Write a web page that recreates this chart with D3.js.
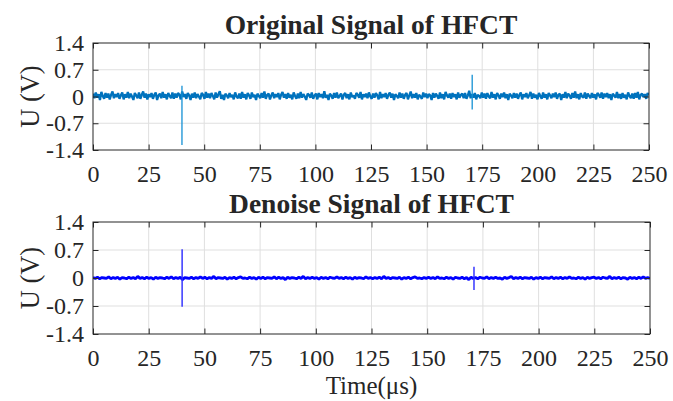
<!DOCTYPE html>
<html>
<head>
<meta charset="utf-8">
<script src="https://cdn.jsdelivr.net/npm/d3@7"></script>
<style>
  body { margin: 0; background: #fff; }
  text { font-family: "Liberation Serif", "DejaVu Serif", serif; fill: #262626; }
</style>
</head>
<body>
<div id="chart"></div>
<script>
// axis ticks
var timeTicks = [0, 25, 50, 75, 100, 125, 150, 175, 200, 225, 250];
var voltTicks = [-1.4, -0.7, 0, 0.7, 1.4];

// original HFCT record: background noise in mV, one sample every origStep µs
var origStep = 250 / 399;
var origNoiseMV = [
  75,-45,105,-30,60,-90,120,15,-60,90,-30,75,-75,45,130,-45,60,-15,90,-60,
  30,105,-75,60,-30,120,-45,75,0,-90,90,30,-45,105,-60,45,130,-30,75,-75,
  60,-15,90,-60,45,105,-90,30,75,-45,120,-30,60,-75,90,15,-45,105,-60,75,
  -30,90,45,-75,130,-15,60,-60,90,30,-90,75,-30,105,-45,60,0,-75,90,45,
  -60,120,-30,75,-45,90,15,-75,105,-30,60,140,-60,45,-90,75,30,-45,90,-15,
  45,-75,105,0,-45,75,-60,120,-30,60,-75,90,30,-60,105,-15,45,-90,75,15,
  -45,90,-30,130,-60,45,75,-75,30,105,-45,60,-15,90,-75,45,120,-30,60,-60,
  90,-30,45,-75,105,15,-60,75,-45,120,-30,60,0,-90,75,45,-30,105,-60,30,
  75,-75,90,-15,60,-45,140,-30,45,-90,75,30,-60,90,-30,105,-45,15,75,-75,
  45,90,-45,60,-75,105,-15,30,-60,90,45,-30,120,-75,60,-15,75,-45,105,0,
  -60,75,-30,90,30,-75,120,-45,60,-15,90,-60,45,105,-30,75,-90,60,15,-45,
  105,-30,75,-60,45,90,-75,30,130,-45,60,-30,90,-75,45,0,-60,105,-15,75,
  -45,60,30,-90,90,-30,75,15,-60,105,-45,60,-75,120,30,-30,75,-60,90,-15,
  60,-75,105,-30,45,75,-45,90,-60,30,150,-45,60,-30,90,-75,45,15,-45,105,
  -30,75,-60,90,0,-45,120,-30,60,-75,90,30,-60,75,-15,105,-45,60,-90,75,
  30,-45,90,-30,75,-60,45,105,-75,60,-15,90,-45,30,120,-60,75,-30,45,-75,
  90,15,-60,105,-30,60,-75,90,30,-45,75,-15,105,-60,45,75,-90,60,-30,120,
  -45,75,30,-60,90,-30,130,-45,60,-75,90,0,-30,105,-60,75,15,-45,90,-30,
  60,-75,90,45,-30,105,-60,75,-15,90,-45,60,-90,75,30,-30,120,-45,60,-60,
  90,-30,45,-75,105,15,-45,75,-60,90,-30,120,-75,45,75,-15,60,-60,90,30
];
// partial discharge pulses in the original record (time µs, peak V, trough V)
var origSpikes = [
  { t: 40, hi: 0.28, lo: -1.27 },
  { t: 170.5, hi: 0.57, lo: -0.34 }
];

// denoised record: residual in mV, one sample every denStep µs
var denStep = 250 / 249;
var denNoiseMV = [
  10,-10,20,-20,10,0,-10,30,-20,10,-10,20,-30,10,0,-20,20,-10,10,-20,40,-10,10,-20,20,
  -10,10,-30,20,-10,10,0,-20,20,-10,30,-20,10,-10,20,-40,10,0,-10,20,-20,10,-10,30,-10,
  20,-20,10,-10,40,-20,10,0,-10,20,-30,10,-10,20,-20,10,30,-10,0,-20,20,-10,10,-30,20,
  -10,20,-20,10,0,-10,30,-20,20,-10,10,-40,20,-10,10,0,-20,20,-10,40,-20,10,-10,20,-10,
  10,-30,20,-10,10,-20,20,0,-10,30,-10,10,-20,20,-10,10,-30,20,-10,10,0,-20,30,-10,10,
  -20,10,-10,20,-20,40,-10,10,-20,10,0,-10,20,-30,10,-10,20,-20,10,30,-10,0,-20,10,-10,
  20,-10,10,-20,30,-10,0,-20,20,-10,10,-30,20,0,-10,20,-20,10,-40,20,-10,10,-20,20,0,
  -10,30,-20,10,-10,20,-10,0,-30,20,-10,10,40,-20,10,-10,20,-20,10,0,-10,20,-30,10,-10,
  20,-20,10,0,-10,30,-20,10,-10,20,-20,10,-10,30,-10,0,-20,20,-10,10,-30,20,-10,10,20,
  -10,10,-20,20,0,-10,40,-20,10,-10,20,-20,10,0,-30,20,-10,10,-20,20,-10,30,-10,10,-10
];
var denSpikes = [
  { t: 40, hi: 0.72, lo: -0.72 },
  { t: 171, hi: 0.28, lo: -0.30 }
];

var W = 673, H = 401;
var svg = d3.select("#chart").append("svg")
  .attr("width", W).attr("height", H);

function noiseTrace(noiseMV, step) {
  return noiseMV.map(function (mv, i) { return { t: i * step, v: mv / 1000 }; });
}
function spikeTrace(s) {
  return [{ t: s.t, v: 0 }, { t: s.t, v: s.hi }, { t: s.t, v: s.lo }, { t: s.t, v: 0 }];
}

function drawPanel(p) {
  var g = svg.append("g").attr("transform", "translate(" + p.left + "," + p.top + ")");
  var x = d3.scaleLinear().domain([0, 250]).range([0, p.width]);
  var y = d3.scaleLinear().domain([-1.4, 1.4]).range([p.height, 0]);

  // grid
  g.append("g").selectAll("line").data(timeTicks.slice(1, -1)).enter().append("line")
    .attr("x1", function (d) { return x(d); }).attr("x2", function (d) { return x(d); })
    .attr("y1", 0).attr("y2", p.height)
    .attr("stroke", "#dfdfdf").attr("stroke-width", 1);
  g.append("g").selectAll("line").data(voltTicks.slice(1, -1)).enter().append("line")
    .attr("y1", function (d) { return y(d); }).attr("y2", function (d) { return y(d); })
    .attr("x1", 0).attr("x2", p.width)
    .attr("stroke", "#dfdfdf").attr("stroke-width", 1);

  // trace: dense noise floor plus the discharge pulses
  g.append("clipPath").attr("id", "clip" + p.id)
    .append("rect").attr("width", p.width).attr("height", p.height);
  var line = d3.line().x(function (d) { return x(d.t); }).y(function (d) { return y(d.v); });
  var plot = g.append("g").attr("clip-path", "url(#clip" + p.id + ")");
  plot.append("path")
    .datum(noiseTrace(p.noise, p.step))
    .attr("d", line)
    .attr("fill", "none")
    .attr("stroke", p.color)
    .attr("stroke-width", p.lineWidth)
    .attr("stroke-linejoin", "bevel");
  plot.selectAll(".spike").data(p.spikes).enter().append("path")
    .attr("class", "spike")
    .attr("d", function (s) { return line(spikeTrace(s)); })
    .attr("fill", "none")
    .attr("stroke", p.spikeColor)
    .attr("stroke-width", p.spikeWidth);

  // axes with inward ticks on all sides
  var tl = 5.5;
  var xb = d3.axisBottom(x).tickValues(timeTicks).tickSizeInner(-tl).tickSizeOuter(0).tickPadding(15);
  var xt = d3.axisTop(x).tickValues(timeTicks).tickSizeInner(-tl).tickSizeOuter(0).tickFormat("");
  var yl = d3.axisLeft(y).tickValues(voltTicks).tickSizeInner(-tl).tickSizeOuter(0).tickPadding(9)
    .tickFormat(function (d) { return d === 0 ? "0" : d; });
  var yr = d3.axisRight(y).tickValues(voltTicks).tickSizeInner(-tl).tickSizeOuter(0).tickFormat("");

  [[xb, "translate(0," + p.height + ")"], [xt, null], [yl, null], [yr, "translate(" + p.width + ",0)"]]
    .forEach(function (a) {
      var ax = g.append("g").call(a[0]);
      if (a[1]) ax.attr("transform", a[1]);
      ax.select(".domain").remove();
      ax.selectAll("line").attr("stroke", "#262626");
      ax.selectAll("text").style("font-size", "24px")
        .attr("fill", "#262626").style("font-family", "'Liberation Serif', serif");
    });

  g.append("rect").attr("width", p.width).attr("height", p.height)
    .attr("fill", "none").attr("stroke", "#262626").attr("stroke-width", 1);

  // title
  g.append("text")
    .attr("x", p.width / 2).attr("y", p.titleY)
    .attr("text-anchor", "middle")
    .style("font-size", "27.5px").style("font-weight", "bold")
    .attr("fill", "#000")
    .text(p.title);

  // y label
  g.append("text")
    .attr("transform", "translate(" + (39 - p.left) + "," + (p.height / 2) + ") rotate(-90)")
    .attr("text-anchor", "middle")
    .style("font-size", "26.4px")
    .text("U (V)");

  if (p.xlabel) {
    g.append("text")
      .attr("x", p.width / 2).attr("y", p.height + 60)
      .attr("text-anchor", "middle")
      .style("font-size", "25px")
      .text(p.xlabel);
  }
}

drawPanel({
  id: 1, left: 93, top: 43, width: 556, height: 107,
  title: "Original Signal of HFCT", titleY: -9,
  noise: origNoiseMV, step: origStep, spikes: origSpikes,
  color: "#0072BD", lineWidth: 2.3,
  spikeColor: "#1591d4", spikeWidth: 1.3
});
drawPanel({
  id: 2, left: 93, top: 222, width: 557, height: 112,
  title: "Denoise Signal of HFCT", titleY: -9,
  noise: denNoiseMV, step: denStep, spikes: denSpikes,
  color: "#0000FF", lineWidth: 2.8,
  spikeColor: "#2a2aff", spikeWidth: 1.4,
  xlabel: "Time(\u03bcs)"
});
</script>
</body>
</html>
